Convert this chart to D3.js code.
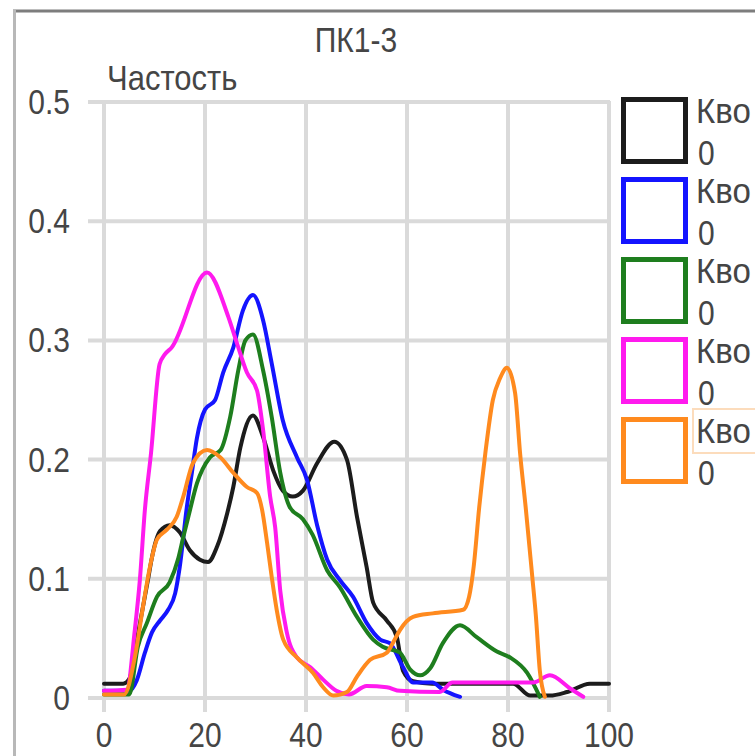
<!DOCTYPE html>
<html><head><meta charset="utf-8">
<script src="https://cdn.jsdelivr.net/npm/d3@7"></script>
<style>html,body{margin:0;padding:0;background:#fff;overflow:hidden}</style>
</head><body>
<svg id="c" width="755" height="756"></svg>
<script>
const chartTitle = "ПК1-3";
const yAxisTitle = "Частость";
const xTicks = [0, 20, 40, 60, 80, 100];
const xTickLabels = ["0", "20", "40", "60", "80", "100"];
const yTicks = [0, 0.1, 0.2, 0.3, 0.4, 0.5];
const yTickLabels = ["0", "0.1", "0.2", "0.3", "0.4", "0.5"];
const legendNames = ["Кво", "Кво", "Кво", "Кво", "Кво"];
const legendSub = ["0", "0", "0", "0", "0"];
const seriesColors = ["#1c1c1c", "#1414ff", "#1e7e1e", "#ff1aee", "#ff8a1e"];

const blackX = [0, 3.8, 5, 7, 8.7, 9.5, 11.1, 13, 15, 17, 19, 20.6, 22.4, 24.4, 25.6, 27, 29.5, 31.5, 33.5, 35.4, 37.4, 39.4, 42.2, 45.6, 48.1, 50.1, 52, 53.3, 56, 58, 59.2, 61.2, 65, 81, 84.4, 88.3, 91.7, 96.2, 100];
const blackY = [0.012, 0.012, 0.016, 0.06, 0.099, 0.118, 0.14, 0.145, 0.139, 0.124, 0.116, 0.114, 0.127, 0.155, 0.177, 0.21, 0.237, 0.219, 0.191, 0.174, 0.169, 0.174, 0.197, 0.215, 0.2, 0.152, 0.11, 0.08, 0.065, 0.051, 0.023, 0.014, 0.012, 0.012, 0.002, 0.002, 0.005, 0.012, 0.012];

const blueX = [0, 5, 6.5, 8.1, 9.5, 11.1, 12.7, 14.1, 15, 16.4, 17.4, 18.4, 20, 22, 23.6, 25.6, 27.5, 29.5, 31.5, 33.2, 35.4, 38.2, 40.2, 42.2, 44.2, 46.7, 49.3, 52, 54.7, 56.6, 59.2, 61.2, 65, 67.1, 70.5];
const blueY = [0.006, 0.006, 0.015, 0.038, 0.055, 0.065, 0.074, 0.088, 0.11, 0.16, 0.189, 0.218, 0.242, 0.25, 0.273, 0.294, 0.325, 0.338, 0.317, 0.281, 0.233, 0.202, 0.183, 0.145, 0.116, 0.099, 0.085, 0.063, 0.049, 0.046, 0.026, 0.013, 0.013, 0.007, 0.001];

const greenX = [0, 5, 6.7, 8.5, 10.5, 13, 14.7, 15.7, 16.7, 18.4, 21, 23.1, 25, 26.6, 28, 29.5, 31.5, 33.2, 34.9, 36.8, 39.4, 41.3, 44.2, 46.7, 50.1, 53.3, 55.2, 58.6, 60.6, 62.6, 64.6, 67.1, 70.5, 73.8, 77.8, 80.4, 83.8, 86.3];
const greenY = [0.003, 0.003, 0.043, 0.063, 0.085, 0.097, 0.117, 0.135, 0.152, 0.18, 0.202, 0.208, 0.236, 0.275, 0.3, 0.305, 0.275, 0.236, 0.189, 0.16, 0.15, 0.137, 0.107, 0.093, 0.068, 0.049, 0.043, 0.038, 0.024, 0.019, 0.025, 0.046, 0.061, 0.051, 0.039, 0.034, 0.021, 0.001];

const magentaX = [0, 4.5, 6.1, 7.1, 8.1, 9.3, 11, 12, 13.4, 20.4, 24.6, 26.3, 28.3, 30.3, 31.5, 32.9, 33.9, 34.9, 36.2, 38.2, 40.8, 43.5, 46, 48.5, 52, 56, 58.6, 66.5, 69, 85, 88.3, 92.3, 94.9];
const magentaY = [0.006, 0.007, 0.057, 0.099, 0.158, 0.205, 0.28, 0.288, 0.294, 0.357, 0.32, 0.298, 0.273, 0.258, 0.225, 0.169, 0.143, 0.09, 0.055, 0.034, 0.026, 0.015, 0.006, 0.003, 0.01, 0.009, 0.006, 0.005, 0.013, 0.013, 0.019, 0.008, 0.001];

const orangeX = [0, 4, 6.1, 7.7, 9.1, 10.5, 12.4, 14.4, 15.7, 17.6, 20.4, 23, 25.6, 28.3, 30.3, 31.3, 32.3, 33.2, 34.2, 35.5, 38.2, 41.4, 43.4, 45.4, 48.1, 50.1, 52.7, 56, 57.3, 58.6, 61.2, 65.1, 71.1, 72.3, 73.2, 74.3, 75.5, 77, 78.4, 79.8, 81.4, 82.4, 83.5, 84.8, 85.5, 86.3, 87.3];
const orangeY = [0.003, 0.003, 0.034, 0.076, 0.11, 0.133, 0.141, 0.152, 0.169, 0.197, 0.208, 0.202, 0.189, 0.177, 0.172, 0.158, 0.13, 0.102, 0.074, 0.049, 0.034, 0.021, 0.009, 0.002, 0.005, 0.018, 0.032, 0.038, 0.047, 0.057, 0.068, 0.071, 0.074, 0.085, 0.11, 0.16, 0.205, 0.25, 0.268, 0.277, 0.256, 0.205, 0.16, 0.102, 0.07, 0.023, 0.001];

const seriesX = [blackX, blueX, greenX, magentaX, orangeX];
const seriesY = [blackY, blueY, greenY, magentaY, orangeY];

const svg = d3.select("#c");
const FONT = "'Liberation Sans', Arial, sans-serif";
const TXT = "#454545";

const x = d3.scaleLinear().domain([0, 100]).range([104, 609]);
const y = d3.scaleLinear().domain([0, 0.5]).range([698, 102]);

// outer frame
svg.append("line").attr("x1", 13).attr("x2", 755).attr("y1", 11).attr("y2", 11).attr("stroke", "#7d7d7d").attr("stroke-width", 3);
svg.append("line").attr("x1", 14.5).attr("x2", 14.5).attr("y1", 10).attr("y2", 756).attr("stroke", "#b8b8b8").attr("stroke-width", 3);

function stretchedText(sel, tx, ty, str, anchor, size, sy) {
  return sel.append("text")
    .attr("transform", `translate(${tx},${ty}) scale(1,${sy})`)
    .attr("text-anchor", anchor)
    .attr("font-family", FONT).attr("font-size", size).attr("fill", TXT)
    .text(str);
}

// gridlines
const grid = svg.append("g").attr("stroke", "#dadada").attr("stroke-width", 4);
yTicks.forEach(v => {
  grid.append("line").attr("x1", 88).attr("x2", x(100) + 1).attr("y1", y(v)).attr("y2", y(v));
});
xTicks.forEach(v => {
  grid.append("line").attr("x1", x(v)).attr("x2", x(v)).attr("y1", y(0.5) - 1).attr("y2", 712);
});

// tick labels
yTicks.forEach((v, i) => stretchedText(svg, 70, y(v) + 12, yTickLabels[i], "end", 30, 1.16));
xTicks.forEach((v, i) => stretchedText(svg, x(v), 747, xTickLabels[i], "middle", 30, 1.16));

// titles
stretchedText(svg, 356, 52, chartTitle, "middle", 30, 1.16);
stretchedText(svg, 107, 90, yAxisTitle, "start", 31, 1.12);

// series
const line = d3.line().x(d => x(d[0])).y(d => y(d[1])).curve(d3.curveMonotoneX);
seriesX.forEach((xs, i) => {
  const pts = xs.map((xv, j) => [xv, seriesY[i][j]]);
  svg.append("path").datum(pts).attr("d", line)
    .attr("fill", "none").attr("stroke", seriesColors[i])
    .attr("stroke-width", 4).attr("stroke-linejoin", "round").attr("stroke-linecap", "round");
});

// legend
const lg = svg.append("g");
legendNames.forEach((name, i) => {
  const top = 97 + 80 * i;
  lg.append("rect").attr("x", 623.5).attr("y", top + 2.5).attr("width", 62).attr("height", 62)
    .attr("fill", "#fff").attr("stroke", seriesColors[i]).attr("stroke-width", 5);
  stretchedText(lg, 696, top + 26, name, "start", 33, 1.06);
  stretchedText(lg, 698, top + 68, legendSub[i], "start", 30, 1.16);
});
// highlight around last legend label
lg.append("rect").attr("x", 693).attr("y", 409).attr("width", 80).attr("height", 44)
  .attr("fill", "none").attr("stroke", "#fcdcbc").attr("stroke-width", 2);
</script>
</body></html>
